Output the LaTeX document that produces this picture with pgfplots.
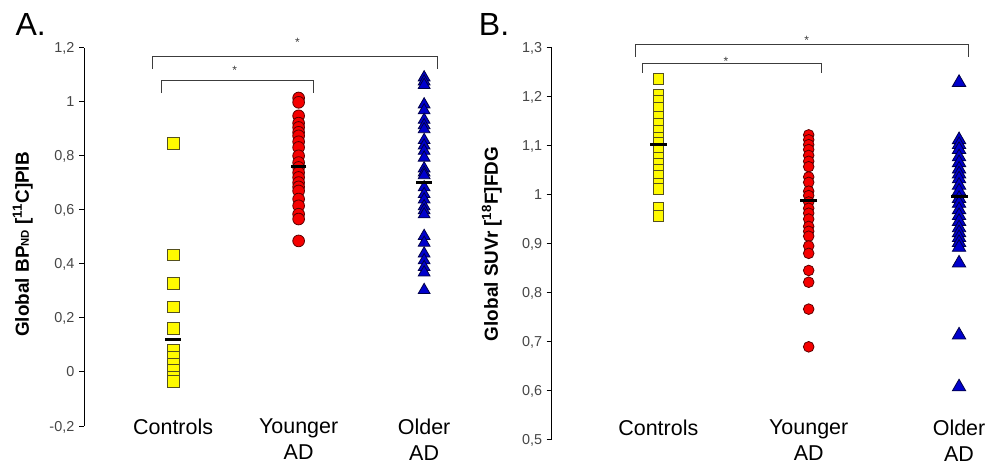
\documentclass[border=0pt]{standalone}
\usepackage{pgfplots}
\pgfplotsset{compat=1.18}
\usepackage{fontspec}
\setmainfont{Liberation Sans}

\definecolor{ctrlfill}{RGB}{255,250,0}
\definecolor{ctrledge}{RGB}{85,80,30}
\definecolor{ydfill}{RGB}{245,0,0}
\definecolor{ydedge}{RGB}{90,0,0}
\definecolor{odfill}{RGB}{0,0,205}
\definecolor{odedge}{RGB}{0,0,70}
\definecolor{tickgray}{RGB}{70,70,70}
\definecolor{brk}{RGB}{60,60,60}

\pgfplotsset{
  dotstrip/.style={
    scale only axis, clip=false,
    axis x line=bottom, axis y line=left,
    axis line style={-, line width=0.75pt, black},
    x axis line style={draw=none},
    xtick={0,1,2}, xticklabels={Controls,{Younger\\AD},{Older\\AD}},
    xtick style={draw=none},
    tick align=outside, major tick length=3.75pt,
    ytick style={line width=0.75pt, black},
    yticklabel style={font=\fontsize{10.8}{13}\selectfont, text=tickgray, text depth=0pt},
  },
  ctrl/.style={only marks, mark=square*, mark size=4.4pt,
    mark options={fill=ctrlfill, draw=ctrledge, line width=0.6pt}},
  young/.style={only marks, mark=*, mark size=4.4pt,
    mark options={fill=ydfill, draw=ydedge, line width=0.6pt}},
  old/.style={only marks, mark=triangle*, mark size=5.1pt,
    mark options={fill=odfill, draw=odedge, line width=0.6pt}},
  meanbar/.style={only marks, mark=-, mark size=#1,
    mark options={draw=black, line width=2.3pt}},
  bracket/.style={brk, line width=0.75pt, mark=none},
}

\begin{document}
\begin{tikzpicture}
\useasboundingbox (0pt,0pt) rectangle (747pt,-348pt);

% ---------------- Panel A: amyloid binding ----------------
\begin{axis}[dotstrip,
  at={(63pt,-319.5pt)}, anchor=south west,
  width=283.35pt, height=283.7pt,
  xmin=-0.71, xmax=2.3, ymin=-0.2, ymax=1.2,
  ytick={-0.2,0,0.2,0.4,0.6,0.8,1,1.2},
  yticklabels={{-0,2},0,{0,2},{0,4},{0,6},{0,8},1,{1,2}},
  xticklabel style={align=center, font=\fontsize{16.1}{19.3}\selectfont,
    inner sep=0pt, anchor=north, yshift=9.3pt},
  every axis y label/.style={at={(axis description cs:-0.162,0.48)},
    rotate=90, anchor=center, font=\bfseries\fontsize{14.2}{17}\selectfont},
  ylabel={Global BP{\fontsize{8.5}{9}\selectfont ND} [\textsuperscript{11}C]PIB},
]
\addplot[ctrl] coordinates {
  (0,0.847) (0,0.433) (0,0.327) (0,0.241) (0,0.161) (0,0.080)
  (0,0.055) (0,0.030) (0,0.005) (0,-0.020) (0,-0.035)};
\addplot[young] coordinates {
  (1,1.014) (1,0.998) (1,0.948) (1,0.921) (1,0.905) (1,0.887)
  (1,0.874) (1,0.852) (1,0.831) (1,0.800) (1,0.775) (1,0.757)
  (1,0.738) (1,0.720) (1,0.701) (1,0.685) (1,0.670) (1,0.640)
  (1,0.615) (1,0.584) (1,0.566) (1,0.485)};
\addplot[old] coordinates {
  (2,1.090) (2,1.075) (2,1.062) (2,0.990) (2,0.968) (2,0.933)
  (2,0.913) (2,0.898) (2,0.858) (2,0.838) (2,0.818) (2,0.793)
  (2,0.753) (2,0.738) (2,0.728) (2,0.683) (2,0.658) (2,0.638)
  (2,0.613) (2,0.598) (2,0.583) (2,0.503) (2,0.478) (2,0.438)
  (2,0.413) (2,0.388) (2,0.368) (2,0.303)};
\addplot[meanbar=5.8pt] coordinates {(0,0.121) (1,0.759) (2,0.701)};
% significance brackets
\addplot[bracket] coordinates {(-0.167,1.121) (-0.167,1.169) (2.11,1.169) (2.11,1.121)};
\addplot[bracket] coordinates {(-0.096,1.032) (-0.096,1.080) (1.12,1.080) (1.12,1.032)};
\node[font=\fontsize{9}{9}\selectfont, text=brk, yshift=-2pt] at (axis cs:0.99,1.229) {*};
\node[font=\fontsize{9}{9}\selectfont, text=brk, yshift=-2pt] at (axis cs:0.49,1.125) {*};
\end{axis}

% ---------------- Panel B: glucose metabolism ----------------
\begin{axis}[dotstrip,
  at={(413.8pt,-329.5pt)}, anchor=south west,
  width=330.3pt, height=293.7pt,
  xmin=-0.709, xmax=2.22, ymin=0.5, ymax=1.3,
  ytick={0.5,0.6,0.7,0.8,0.9,1,1.1,1.2,1.3},
  yticklabels={{0,5},{0,6},{0,7},{0,8},{0,9},1,{1,1},{1,2},{1,3}},
  xticklabel style={align=center, font=\fontsize{16.1}{19.3}\selectfont,
    inner sep=0pt, anchor=north, yshift=18.5pt},
  every axis y label/.style={at={(axis description cs:-0.136,0.499)},
    rotate=90, anchor=center, font=\bfseries\fontsize{14.2}{17}\selectfont},
  ylabel={Global SUVr [\textsuperscript{18}F]FDG},
]
\addplot[ctrl, mark size=4pt] coordinates {
  (0,1.236) (0,1.203) (0,1.191) (0,1.177) (0,1.160) (0,1.145)
  (0,1.131) (0,1.117) (0,1.105) (0,1.090) (0,1.076) (0,1.064)
  (0,1.050) (0,1.038) (0,1.023) (0,1.012) (0,0.973) (0,0.957)};
\addplot[young, mark size=4pt] coordinates {
  (1,1.122) (1,1.112) (1,1.102) (1,1.092) (1,1.080) (1,1.068)
  (1,1.057) (1,1.036) (1,1.025) (1,1.007) (1,0.998) (1,0.985)
  (1,0.972) (1,0.962) (1,0.950) (1,0.935) (1,0.925) (1,0.915)
  (1,0.895) (1,0.880) (1,0.845) (1,0.821) (1,0.766) (1,0.689)};
\addplot[old, mark size=5.8pt] coordinates {
  (2,1.229) (2,1.112) (2,1.102) (2,1.092) (2,1.077) (2,1.065)
  (2,1.052) (2,1.042) (2,1.032) (2,1.019) (2,1.007) (2,0.992)
  (2,0.982) (2,0.969) (2,0.957) (2,0.945) (2,0.932) (2,0.922)
  (2,0.912) (2,0.902) (2,0.892) (2,0.860) (2,0.713) (2,0.607)};
\addplot[meanbar=6.4pt] coordinates {(0,1.103) (1,0.987) (2,0.997)};
% significance brackets
\addplot[bracket] coordinates {(-0.155,1.282) (-0.155,1.307) (2.062,1.307) (2.062,1.282)};
\addplot[bracket] coordinates {(-0.104,1.249) (-0.104,1.268) (1.087,1.268) (1.087,1.249)};
\node[font=\fontsize{9}{9}\selectfont, text=brk, yshift=-2pt] at (axis cs:0.987,1.321) {*};
\node[font=\fontsize{9}{9}\selectfont, text=brk, yshift=-2pt] at (axis cs:0.45,1.278) {*};
\end{axis}

% panel letters
\node[anchor=base west, inner sep=0pt, font=\fontsize{24}{24}\selectfont] at (11.5pt,-26.25pt) {A.};
\node[anchor=base west, inner sep=0pt, font=\fontsize{24}{24}\selectfont] at (359pt,-26.25pt) {B.};
\end{tikzpicture}
\end{document}
